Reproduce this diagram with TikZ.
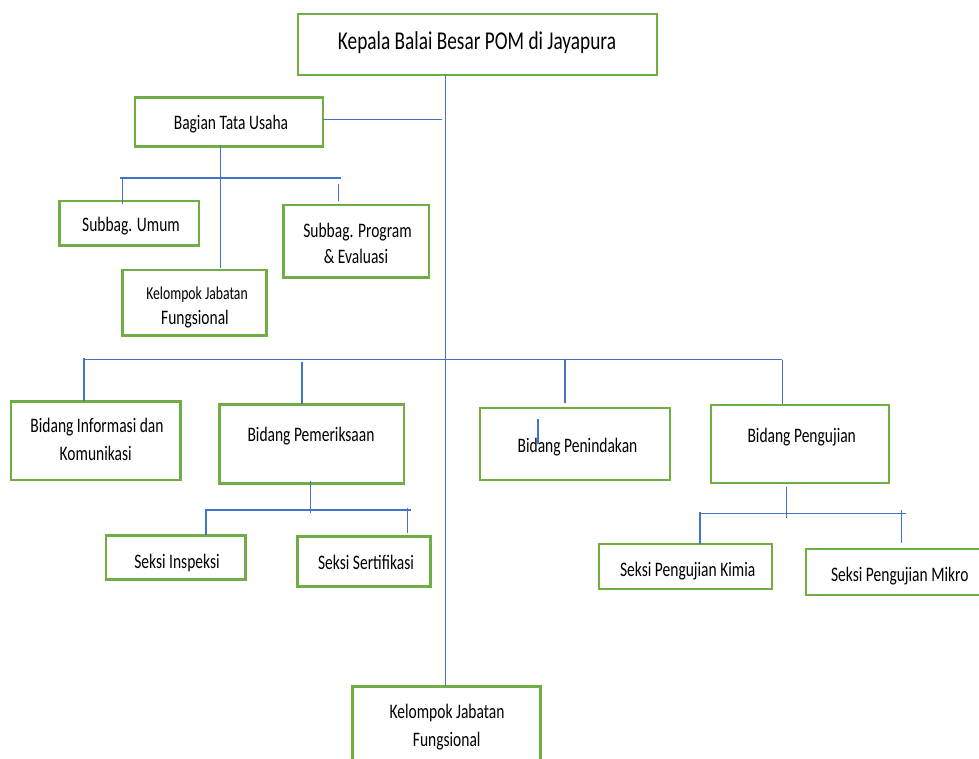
\documentclass[tikz,border=0pt]{standalone}
\usepackage{fontspec}
\setmainfont{Carlito}
\usepackage{graphicx}
\definecolor{boxgreen}{HTML}{70AD47}
\definecolor{lineblue}{HTML}{4472C4}
\newcommand\tx[1]{\scalebox{1}[1.33]{#1}}
\newcommand\bx[5]{\node[box,minimum width={#4pt-#2pt},minimum height={#5pt-#3pt}] (#1) at ({(#2+#4)/2},{(#3+#5)/2}) {};}
\begin{document}
\begin{tikzpicture}[x=1pt,y=-1pt,
  box/.style={draw=boxgreen,line width=2.6pt,rectangle,inner sep=0pt,fill=none},
  txt/.style={inner sep=0pt,anchor=base,font=\fontsize{15.5}{18}\selectfont},
  conn/.style={draw=lineblue,line width=1.2pt}]
\useasboundingbox (0,0) rectangle (979,759);
\clip (0,0) rectangle (979,759);
% boxes
\bx{kepala}{298}{14}{657}{75}
\bx{tu}{135}{97.5}{323}{146.7}
\bx{umum}{59.3}{201}{199}{245.7}
\bx{prog}{283.7}{205}{429}{277.3}
\bx{kjf1}{122.3}{270}{266.3}{335.7}
\bx{info}{11}{401.3}{180.3}{480}
\bx{periksa}{219.3}{404.3}{404}{483.3}
\bx{tindak}{480}{408}{670}{480}
\bx{uji}{711}{405}{889}{483}
\bx{inspeksi}{106}{535.3}{245.3}{579.3}
\bx{sertif}{297.7}{536.3}{430.7}{586.3}
\bx{kimia}{599}{544}{772}{589}
\bx{mikro}{806}{549}{985}{595}
\bx{kjf2}{352.3}{686.3}{540.7}{775}
% texts
\node[txt,font=\fontsize{19.3}{22}\selectfont] (t-kepala) at (477,50) {\tx{Kepala Balai Besar POM di Jayapura}};
\node[txt] (t-tu) at (231,129.5) {\tx{Bagian Tata Usaha}};
\node[txt] (t-umum) at (131,232) {\tx{Subbag. Umum}};
\node[txt] (t-prog1) at (357.5,237) {\tx{Subbag. Program}};
\node[txt] (t-prog2) at (356,264) {\tx{\& Evaluasi}};
\node[txt,font=\fontsize{13.7}{16}\selectfont] (t-kjf1a) at (197,299) {\tx{Kelompok Jabatan}};
\node[txt] (t-kjf1b) at (195,324) {\tx{Fungsional}};
\node[txt] (t-info1) at (97,432) {\tx{Bidang Informasi dan}};
\node[txt] (t-info2) at (95.7,460) {\tx{Komunikasi}};
\node[txt] (t-periksa) at (311,441) {\tx{Bidang Pemeriksaan}};
\node[txt] (t-tindak) at (577.5,452) {\tx{Bidang Penindakan}};
\node[txt] (t-uji) at (801.7,442) {\tx{Bidang Pengujian}};
\node[txt] (t-inspeksi) at (177,568) {\tx{Seksi Inspeksi}};
\node[txt] (t-sertif) at (366,569) {\tx{Seksi Sertifikasi}};
\node[txt] (t-kimia) at (687.7,576) {\tx{Seksi Pengujian Kimia}};
\node[txt] (t-mikro) at (899.8,581) {\tx{Seksi Pengujian Mikro}};
\node[txt] (t-kjf2a) at (447,718) {\tx{Kelompok Jabatan}};
\node[txt] (t-kjf2b) at (446.7,746) {\tx{Fungsional}};
% junction coordinates
\coordinate (m-top) at (445.3,75);
\coordinate (m-bot) at (445.3,686.3);
\coordinate (tu-r) at (323,119.7);
\coordinate (tu-end) at (442,119.7);
\coordinate (tu-down) at (220.3,145);
\coordinate (tu-kjf) at (220.3,268);
\coordinate (h1-l) at (120.3,178);
\coordinate (h1-r) at (340.7,178);
\coordinate (umum-t1) at (122.3,177);
\coordinate (umum-t2) at (122.3,204);
\coordinate (prog-t1) at (338.7,184);
\coordinate (prog-t2) at (338.7,201);
\coordinate (h2-l) at (83.3,359.5);
\coordinate (h2-r) at (782,359.5);
\coordinate (info-t1) at (84,358);
\coordinate (info-t2) at (84,401.3);
\coordinate (per-t1) at (302,362);
\coordinate (per-t2) at (302,404.3);
\coordinate (tin-t1) at (565,359.5);
\coordinate (tin-t2) at (565,403);
\coordinate (uji-t1) at (782.3,360);
\coordinate (uji-t2) at (782.3,404);
\coordinate (per-d1) at (310.7,480.7);
\coordinate (per-d2) at (310.7,512.7);
\coordinate (h3-l) at (205,510);
\coordinate (h3-r) at (410.7,510);
\coordinate (ins-t1) at (206,510);
\coordinate (ins-t2) at (206,535.3);
\coordinate (ser-t1) at (407.3,508);
\coordinate (ser-t2) at (407.3,533.3);
\coordinate (uji-d1) at (786.3,487);
\coordinate (uji-d2) at (786.3,518);
\coordinate (h4-l) at (699.3,513.7);
\coordinate (h4-r) at (906,513.7);
\coordinate (kim-t1) at (700,512);
\coordinate (kim-t2) at (700,544);
\coordinate (mik-t1) at (901.3,510);
\coordinate (mik-t2) at (901.3,542.7);
\coordinate (stray1) at (538,419);
\coordinate (stray2) at (538,444);
% connectors
\draw[conn] (m-top) -- (m-bot);
\draw[conn] (tu-r) -- (tu-end);
\draw[conn] (tu-down) -- (tu-kjf);
\draw[conn] (h1-l) -- (h1-r);
\draw[conn] (umum-t1) -- (umum-t2);
\draw[conn] (prog-t1) -- (prog-t2);
\draw[conn] (h2-l) -- (h2-r);
\draw[conn] (info-t1) -- (info-t2);
\draw[conn] (per-t1) -- (per-t2);
\draw[conn] (tin-t1) -- (tin-t2);
\draw[conn] (uji-t1) -- (uji-t2);
\draw[conn] (per-d1) -- (per-d2);
\draw[conn] (h3-l) -- (h3-r);
\draw[conn] (ins-t1) -- (ins-t2);
\draw[conn] (ser-t1) -- (ser-t2);
\draw[conn] (uji-d1) -- (uji-d2);
\draw[conn] (h4-l) -- (h4-r);
\draw[conn] (kim-t1) -- (kim-t2);
\draw[conn] (mik-t1) -- (mik-t2);
\draw[conn,line width=2pt] (stray1) -- (stray2);
\end{tikzpicture}
\end{document}
